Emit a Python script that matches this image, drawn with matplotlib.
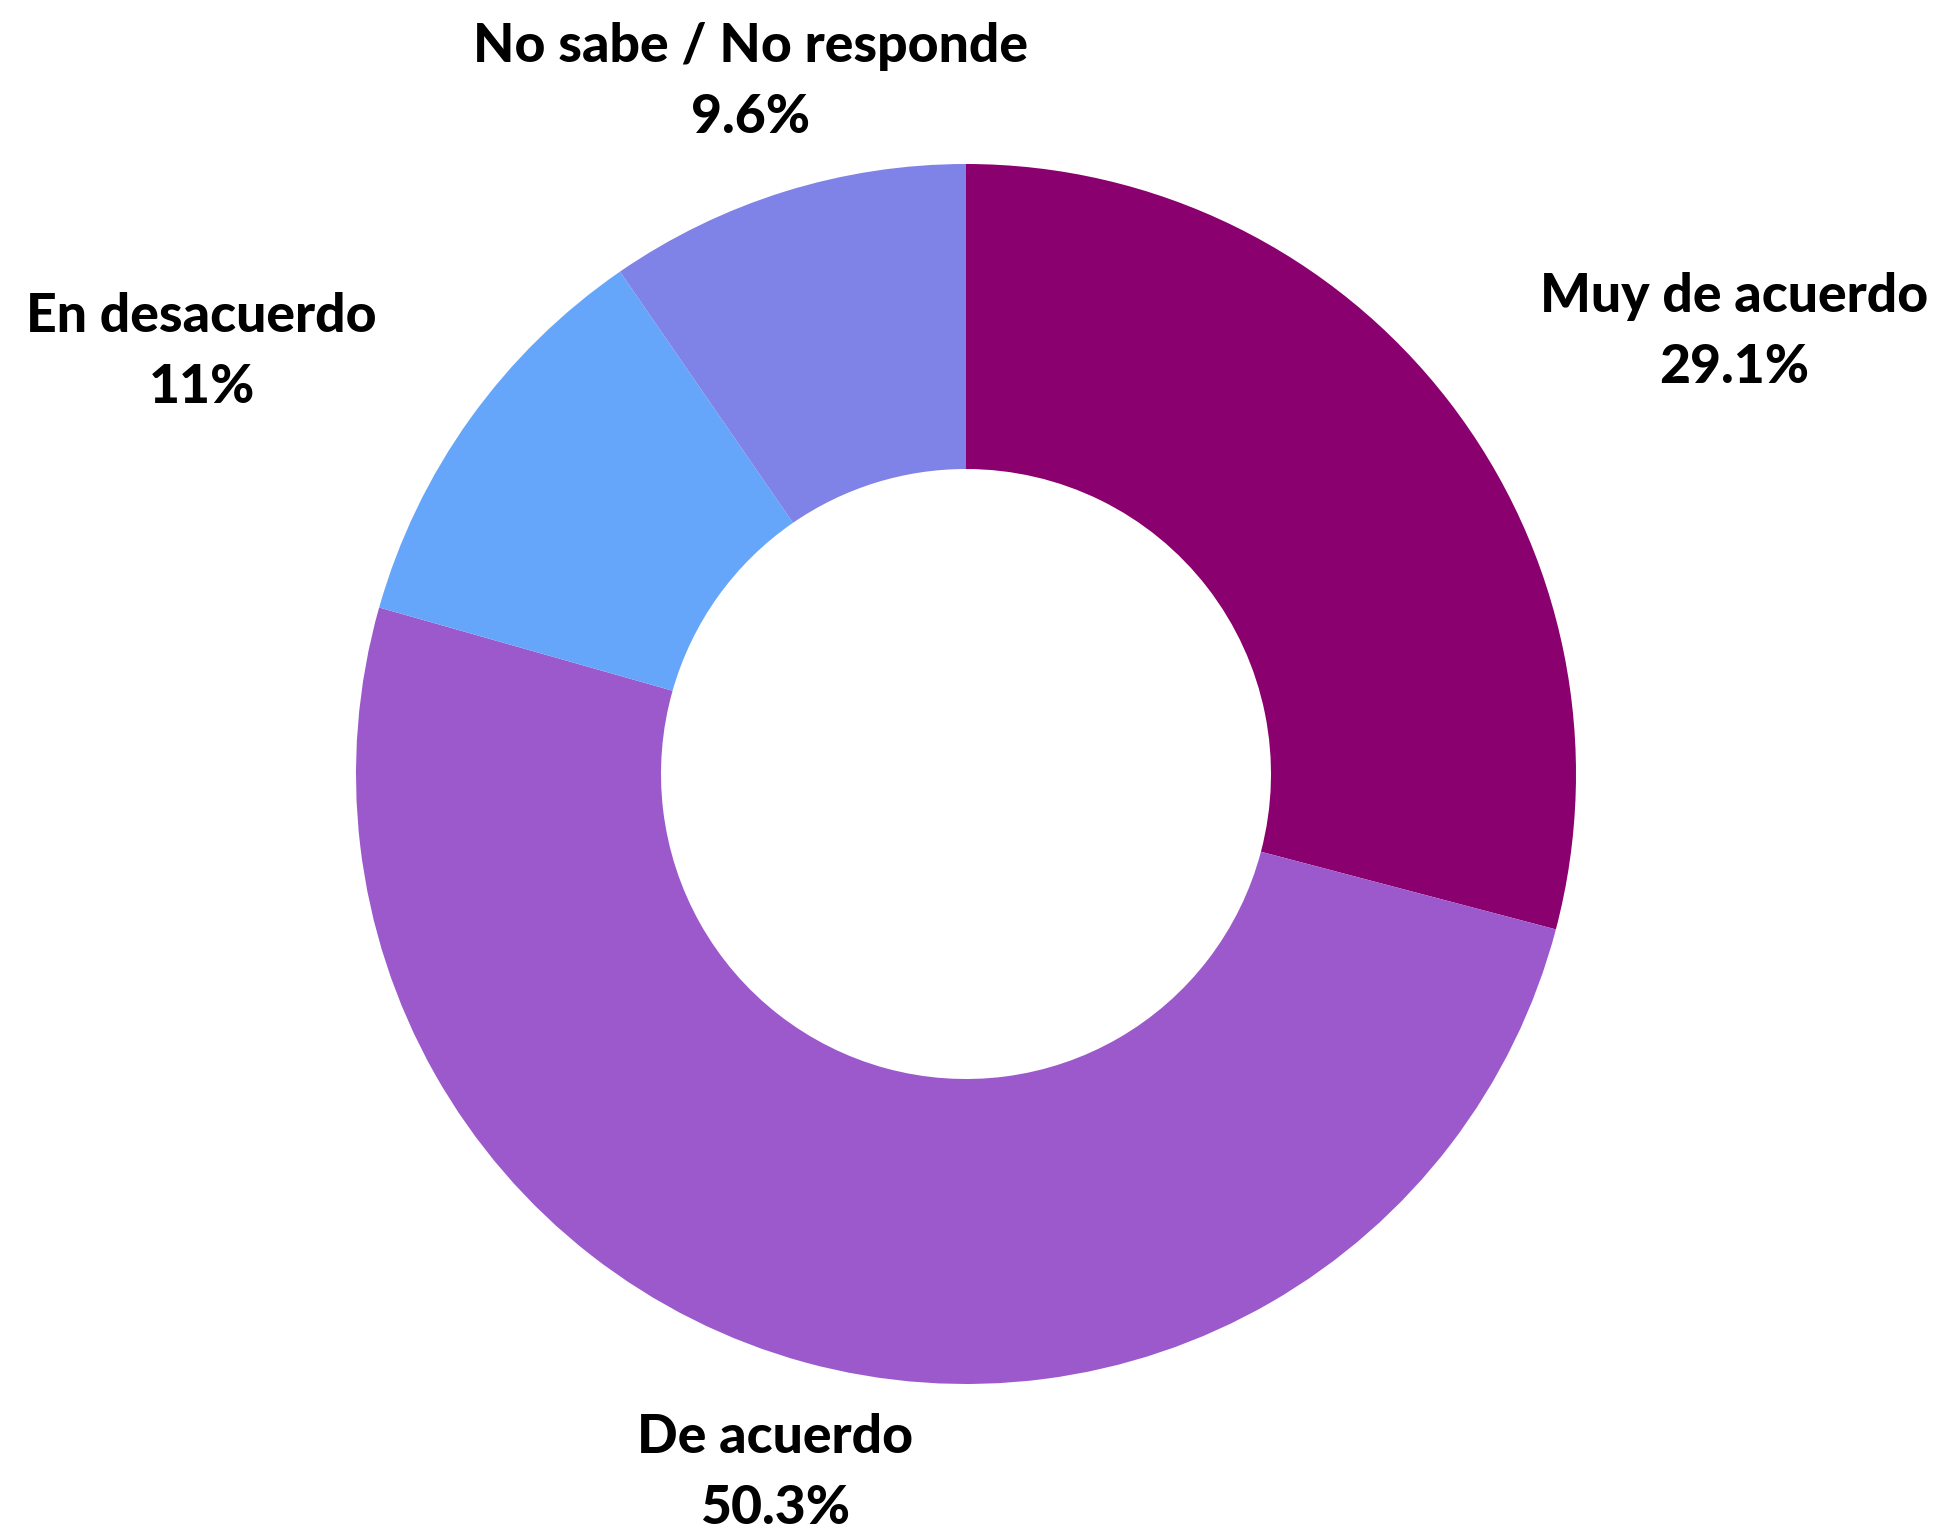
import numpy as np
import matplotlib
matplotlib.use("Agg")
import matplotlib.pyplot as plt

categories = ["Muy de acuerdo", "De acuerdo", "En desacuerdo", "No sabe / No responde"]
values = [29.1, 50.3, 11, 9.6]
pct_labels = ["29.1%", "50.3%", "11%", "9.6%"]
colors = ["#8A006E", "#9B59CB", "#66A6FA", "#7F82E6"]

W, H = 1936, 1530
cx, cy, R = 966, 774, 610

fig = plt.figure(figsize=(W / 100, H / 100), dpi=100)
ax = fig.add_axes([0, 0, 1, 1])

wedges, _ = ax.pie(values, colors=colors, startangle=90, counterclock=False,
                   radius=1, wedgeprops=dict(width=0.5, linewidth=0),
                   frame=True)
ax.set_xlim(-cx / R, (W - cx) / R)
ax.set_ylim(-(H - cy) / R, cy / R)
ax.axis("off")

for w, cat, pl in zip(wedges, categories, pct_labels):
    mid = np.deg2rad((w.theta1 + w.theta2) / 2)
    r = 1.188
    x, y = r * np.cos(mid), r * np.sin(mid)
    c = np.cos(mid)
    ha = "center" if abs(c) < 0.5 else ("left" if c > 0 else "right")
    ax.text(x, y, f"{cat}\n{pl}", ha=ha, va="center", multialignment="center",
            fontsize=38.5, fontweight="black", family=["Lato", "DejaVu Sans"],
            linespacing=1.55, color="black")

fig.savefig("out.png", dpi=100, facecolor="white")
